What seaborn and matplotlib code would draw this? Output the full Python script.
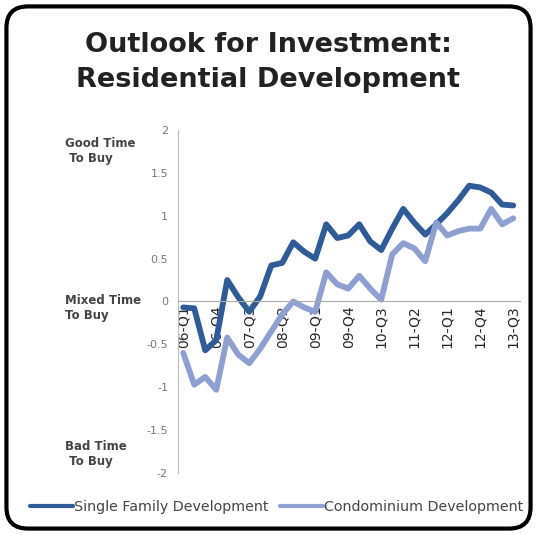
import numpy as np
import pandas as pd
import seaborn as sns
import matplotlib.pyplot as plt
from matplotlib.patches import FancyBboxPatch

# quarters 06-Q1 .. 13-Q3
quarters = [f'{y:02d}-Q{q}' for y in range(6, 14) for q in range(1, 5)][:31]
tick_labels = quarters[::3]

single_family = [-0.07, -0.08, -0.57, -0.45, 0.25, 0.05, -0.12, 0.06, 0.42, 0.45,
                 0.69, 0.58, 0.50, 0.90, 0.74, 0.77, 0.90, 0.70, 0.60, 0.85,
                 1.08, 0.92, 0.78, 0.90, 1.03, 1.18, 1.35, 1.33, 1.27, 1.13, 1.12]
condominium = [-0.60, -0.97, -0.88, -1.03, -0.42, -0.62, -0.72, -0.55, -0.35, -0.15,
               0.00, -0.07, -0.12, 0.34, 0.20, 0.15, 0.30, 0.15, 0.02, 0.55,
               0.68, 0.62, 0.47, 0.92, 0.77, 0.82, 0.85, 0.85, 1.08, 0.90, 0.97]
series_names = ['Single Family Development', 'Condominium Development']
colors = ['#2f5b98', '#8e9fd2']

df = pd.DataFrame({'idx': list(range(31)) * 2,
                   'value': single_family + condominium,
                   'series': [series_names[0]] * 31 + [series_names[1]] * 31})

sns.set_style('white')
plt.rcParams['font.family'] = ['DejaVu Sans']

fig = plt.figure(figsize=(5.37, 5.35), dpi=100)
ax = fig.add_axes([0.331, 0.116, 0.637, 0.641])

sns.lineplot(data=df, x='idx', y='value', hue='series', palette=colors,
             linewidth=4.2, ax=ax, legend=False)

ax.set_xlim(-0.5, 30.6)
ax.set_ylim(-2, 2)
ax.set_yticks(np.arange(-2, 2.01, 0.5))
ax.set_yticklabels(['-2', '-1.5', '-1', '-0.5', '0', '0.5', '1', '1.5', '2'],
                   fontsize=8, color='#777777')
ax.set_xticks(range(0, 31, 3))
ax.set_xticklabels(tick_labels, fontsize=8.5, color='#444444')
ax.tick_params(axis='x', length=0, pad=3, labelrotation=90)
for lbl in ax.get_xticklabels():
    lbl.set_ha('center')
    lbl.set_va('top')
ax.set_xlabel('')
ax.set_ylabel('')
ax.spines['top'].set_visible(False)
ax.spines['right'].set_visible(False)
ax.spines['left'].set_color('#bbbbbb')
ax.spines['bottom'].set_position(('data', 0))
ax.spines['bottom'].set_color('#aaaaaa')
ax.tick_params(axis='y', length=3, color='#bbbbbb', pad=4)

for val, txt in [(1.76, 'Good Time\n To Buy'), (-0.08, 'Mixed Time\nTo Buy'),
                 (-1.78, 'Bad Time\n To Buy')]:
    ax.text(-0.33, val, txt, transform=ax.get_yaxis_transform(), fontsize=8.5,
            fontweight='bold', color='#444444', ha='left', va='center')

fig.text(0.5, 0.915, 'Outlook for Investment:', ha='center', va='center',
         fontsize=19.5, fontweight='bold', color='#222222')
fig.text(0.5, 0.85, 'Residential Development', ha='center', va='center',
         fontsize=19.5, fontweight='bold', color='#222222')

handles = [plt.Line2D([], [], color=c, linewidth=3) for c in colors]
fig.legend(handles, series_names, loc='center', bbox_to_anchor=(0.515, 0.052),
           ncol=2, frameon=False, fontsize=10.3, handlelength=3.0,
           handletextpad=0.1, columnspacing=0.8, labelcolor='#444444')

border = FancyBboxPatch((0.012, 0.012), 0.976, 0.976, boxstyle='round,pad=0,rounding_size=0.04',
                        transform=fig.transFigure, facecolor='none', edgecolor='black',
                        linewidth=3)
fig.patches.append(border)

fig.savefig('out.png', dpi=100)
